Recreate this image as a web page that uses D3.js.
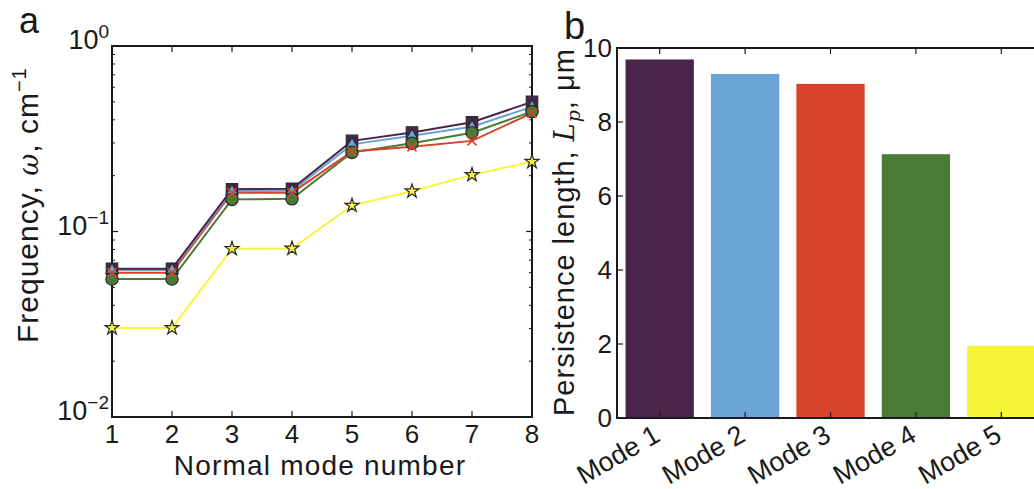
<!DOCTYPE html>
<html><head><meta charset="utf-8">
<script src="https://cdn.jsdelivr.net/npm/d3@7"></script>
<style>
body{margin:0;background:#fff;}
text{font-family:"Liberation Sans",Arial,Helvetica,sans-serif;fill:#1a1a1a;}
</style></head>
<body>
<svg id="c" width="1034" height="489"></svg>
<script>
// ---- Panel a data ----
const modeNumbers = [1,2,3,4,5,6,7,8];
const freqPurple = [0.063,0.063,0.169,0.170,0.308,0.342,0.388,0.50];
const freqBlue   = [0.062,0.062,0.165,0.166,0.295,0.328,0.367,0.47];
const freqRed    = [0.060,0.060,0.162,0.162,0.270,0.286,0.308,0.435];
const freqGreen  = [0.0555,0.0555,0.149,0.150,0.267,0.299,0.341,0.443];
const freqYellow = [0.0302,0.0302,0.0807,0.081,0.138,0.165,0.202,0.238];
const yTickExp = [0,-1,-2];
const xTicksA = [1,2,3,4,5,6,7,8];
// ---- Panel b data ----
const modes = ["Mode 1","Mode 2","Mode 3","Mode 4","Mode 5"];
const persistence = [9.69,9.30,9.03,7.13,1.95];
const yTicksB = [0,2,4,6,8,10];

const colPurple="#4b2449", colBlue="#6ba4d6", colRed="#d8432b", colGreen="#4a7b36", colYellow="#f8f43a";
const barColors=[colPurple,colBlue,colRed,colGreen,colYellow];

const svg=d3.select("#c");
const ink="#1a1a1a";

// ===== Panel a =====
const ax={l:112,r:532,t:46,b:417};
const xA=d3.scaleLinear().domain([1,8]).range([ax.l,ax.r]);
const yA=d3.scaleLog().domain([0.01,1]).range([ax.b,ax.t]);
const gA=svg.append("g");

const minor=[];
for(let e=-2;e<0;e++){for(let k=2;k<=9;k++)minor.push(k*Math.pow(10,e));}
minor.forEach(v=>{
  gA.append("line").attr("x1",ax.l).attr("x2",ax.l+3).attr("y1",yA(v)).attr("y2",yA(v)).attr("stroke",ink).attr("stroke-width",1);
  gA.append("line").attr("x1",ax.r).attr("x2",ax.r-3).attr("y1",yA(v)).attr("y2",yA(v)).attr("stroke",ink).attr("stroke-width",1);
});
yTickExp.forEach(e=>{
  const v=Math.pow(10,e);
  gA.append("line").attr("x1",ax.l).attr("x2",ax.l+6).attr("y1",yA(v)).attr("y2",yA(v)).attr("stroke",ink).attr("stroke-width",1.2);
  gA.append("line").attr("x1",ax.r).attr("x2",ax.r-6).attr("y1",yA(v)).attr("y2",yA(v)).attr("stroke",ink).attr("stroke-width",1.2);
  const t=gA.append("text").attr("x",ax.l-3).attr("y",yA(v)+3).attr("text-anchor","end").attr("font-size",27);
  t.append("tspan").text("10");
  t.append("tspan").attr("dy",-11).attr("font-size",19).text(e===0?"0":"\u2212"+(-e));
});
xTicksA.forEach(v=>{
  gA.append("line").attr("x1",xA(v)).attr("x2",xA(v)).attr("y1",ax.b).attr("y2",ax.b-6).attr("stroke",ink).attr("stroke-width",1.2);
  gA.append("line").attr("x1",xA(v)).attr("x2",xA(v)).attr("y1",ax.t).attr("y2",ax.t+6).attr("stroke",ink).attr("stroke-width",1.2);
  gA.append("text").attr("x",xA(v)).attr("y",ax.b+26).attr("text-anchor","middle").attr("font-size",26).text(v);
});
gA.append("rect").attr("x",ax.l).attr("y",ax.t).attr("width",ax.r-ax.l).attr("height",ax.b-ax.t).attr("fill","none").attr("stroke",ink).attr("stroke-width",2);

const line=d3.line().x((d,i)=>xA(modeNumbers[i])).y(d=>yA(d));
const series=[
  {v:freqYellow,c:colYellow,m:"star"},
  {v:freqGreen,c:colGreen,m:"circle"},
  {v:freqRed,c:colRed,m:"x"},
  {v:freqBlue,c:colBlue,m:"tri"},
  {v:freqPurple,c:colPurple,m:"sq"}
];
series.forEach(s=>{
  gA.append("path").datum(s.v).attr("d",line).attr("fill","none").attr("stroke",s.c).attr("stroke-width",2);
});
const symMap={star:d3.symbolStar,circle:d3.symbolCircle,tri:d3.symbolTriangle,sq:d3.symbolSquare};
const sizeMap={star:60,circle:120,tri:60,sq:130};
["sq","tri","circle","x","star"].forEach(m=>{
  const s=series.find(q=>q.m===m);
  s.v.forEach((d,i)=>{
    const cx=xA(modeNumbers[i]), cy=yA(d);
    if(m==="x"){
      const r=4.5;
      gA.append("path").attr("d",`M${cx-r},${cy-r}L${cx+r},${cy+r}M${cx-r},${cy+r}L${cx+r},${cy-r}`).attr("stroke",s.c).attr("stroke-width",1.6);
    } else {
      gA.append("path").attr("d",d3.symbol().type(symMap[m]).size(sizeMap[m])()).attr("transform",`translate(${cx},${cy})`)
        .attr("fill",s.c).attr("stroke","#2a2a2a").attr("stroke-width",1.2);
    }
  });
});

gA.append("text").attr("x",19).attr("y",33).attr("font-size",36).text("a");
gA.append("text").attr("x",320).attr("y",475).attr("text-anchor","middle").attr("font-size",28).attr("letter-spacing",1.2).text("Normal mode number");
const yl=gA.append("text").attr("transform","translate(38,343) rotate(-90)").attr("font-size",30).attr("letter-spacing",1);
yl.append("tspan").text("Frequency, ");
yl.append("tspan").attr("font-style","italic").attr("font-family","DejaVu Serif, serif").attr("font-size",27).text("\u03c9");
yl.append("tspan").text(", cm");
yl.append("tspan").attr("dy",-12).attr("font-size",20).text("\u22121");

// ===== Panel b =====
const bx={l:617,r:1044,t:48,b:418};
const xB=d3.scaleBand().domain(modes).range([bx.l,bx.r]).paddingInner(0.2).paddingOuter(0.1);
const yB=d3.scaleLinear().domain([0,10]).range([bx.b,bx.t]);
const gB=svg.append("g");
gB.selectAll("rect.bar").data(persistence).enter().append("rect")
  .attr("x",(d,i)=>xB(modes[i])).attr("width",xB.bandwidth())
  .attr("y",d=>yB(d)).attr("height",d=>yB(0)-yB(d)).attr("fill",(d,i)=>barColors[i]);
yTicksB.forEach(v=>{
  gB.append("line").attr("x1",bx.l).attr("x2",bx.l+6).attr("y1",yB(v)).attr("y2",yB(v)).attr("stroke",ink).attr("stroke-width",1.2);
  gB.append("text").attr("x",bx.l-5).attr("y",yB(v)+9).attr("text-anchor","end").attr("font-size",26).text(v);
});
modes.forEach(m=>{
  const cx=xB(m)+xB.bandwidth()/2;
  gB.append("line").attr("x1",cx).attr("x2",cx).attr("y1",bx.b).attr("y2",bx.b-6).attr("stroke",ink).attr("stroke-width",1.2);
  gB.append("line").attr("x1",cx).attr("x2",cx).attr("y1",bx.t).attr("y2",bx.t+6).attr("stroke",ink).attr("stroke-width",1.2);
  gB.append("text").attr("transform",`translate(${cx+2},${bx.b+22}) rotate(-30)`).attr("text-anchor","end").attr("font-size",27).text(m);
});
gB.append("path").attr("d",`M${bx.r},${bx.t}H${bx.l}V${bx.b}H${bx.r}`).attr("fill","none").attr("stroke",ink).attr("stroke-width",2);
gB.append("text").attr("x",564).attr("y",39).attr("font-size",38).text("b");
const yl2=gB.append("text").attr("transform","translate(574,416) rotate(-90)").attr("font-size",29).attr("letter-spacing",1);
yl2.append("tspan").text("Persistence length, ");
yl2.append("tspan").attr("font-style","italic").attr("font-family","DejaVu Serif, serif").attr("font-size",27).text("L");
yl2.append("tspan").attr("font-style","italic").attr("font-family","DejaVu Serif, serif").attr("font-size",19).attr("dy",6).text("p");
yl2.append("tspan").attr("dy",-6).text(", \u03bcm");
</script>
</body></html>
